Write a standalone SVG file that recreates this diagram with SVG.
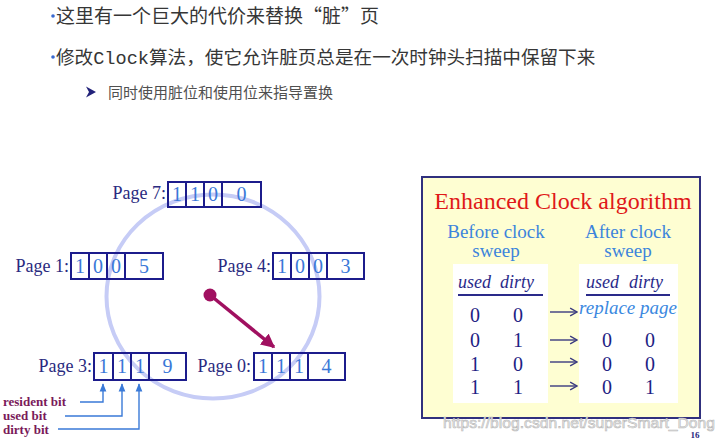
<svg xmlns="http://www.w3.org/2000/svg" width="725" height="439" viewBox="0 0 725 439">
<style>
.cn{font-family:"Noto Sans CJK SC","Noto Sans",sans-serif;fill:#363636}
.mono{font-family:"Liberation Mono",monospace}
.lbl{font-family:"Liberation Serif",serif;font-size:18px;fill:#2a2a80}
.dig{font-family:"Liberation Serif",serif;font-size:20px;fill:#3a78d8;text-anchor:middle}
.box{fill:none;stroke:#1c1c8c;stroke-width:2}
.ann{font-family:"Liberation Serif",serif;font-size:13px;font-weight:bold;fill:#7a1a5a}
.aline{fill:none;stroke:#3a7ad8;stroke-width:1.4}
.hd{font-family:"Liberation Serif",serif;font-size:19px;fill:#3c84dc;text-anchor:middle}
.th{font-family:"Liberation Serif",serif;font-size:18px;font-style:italic;fill:#2a2a8a}
.tv{font-family:"Liberation Serif",serif;font-size:20px;fill:#1e1e84;text-anchor:middle}
.arr{stroke:#3a3a80;stroke-width:1.4;fill:none}
</style>
<defs>
<marker id="mh" viewBox="0 0 10 10" refX="9" refY="5" markerWidth="4" markerHeight="4" orient="auto"><path d="M0,0 L10,5 L0,10 z" fill="#a01060"/></marker>
<marker id="ma" viewBox="0 0 10 10" refX="9" refY="5" markerWidth="6" markerHeight="6" orient="auto"><path d="M0,1 L10,5 L0,9 z" fill="#3a7ad8"/></marker>
<marker id="mt" viewBox="0 0 10 10" refX="9" refY="5" markerWidth="7" markerHeight="7" orient="auto"><path d="M2,1 L9,5 L2,9" fill="none" stroke="#3a3a80" stroke-width="1.4"/></marker>
</defs>
<rect width="725" height="439" fill="#ffffff"/>

<g id="bullets">
<circle cx="53" cy="16" r="1.8" fill="#3a6ad0"/>
<text class="cn" x="56" y="22.5" font-size="19">这里有一个巨大的代价来替换“脏”页</text>
<circle cx="53" cy="57" r="1.8" fill="#3a6ad0"/>
<text class="cn" x="56" y="64" font-size="18.6">修改<tspan class="mono">Clock</tspan>算法，使它允许脏页总是在一次时钟头扫描中保留下来</text>
<polygon points="86,86.5 96,92 86,97.5 89,92" fill="#22227a"/>
<text class="cn" x="108" y="97.5" font-size="15" style="fill:#505050">同时使用脏位和使用位来指导置换</text>
</g>

<g id="clock">
<ellipse cx="213" cy="296.5" rx="106.5" ry="102" fill="none" stroke="#c6ccf6" stroke-width="4"/>
</g>

<g id="connectors">
<line x1="210" y1="295" x2="274" y2="347" stroke="#a01060" stroke-width="3.5" marker-end="url(#mh)"/>
<polyline class="aline" points="80,402 103,402 103,384" marker-end="url(#ma)"/>
<polyline class="aline" points="65,416 122,416 122,384" marker-end="url(#ma)"/>
<polyline class="aline" points="58,429 139,429 139,384" marker-end="url(#ma)"/>
<circle cx="210" cy="295" r="6.5" fill="#a01060"/>
</g>

<g id="page7">
<text class="lbl" x="166" y="199" text-anchor="end">Page 7:</text>
<rect class="box" x="168" y="182" width="93" height="25"/>
<path class="box" d="M186,182V207M204,182V207M222,182V207"/>
<text class="dig" x="177" y="201">1</text><text class="dig" x="195" y="201">1</text><text class="dig" x="213" y="201">0</text><text class="dig" x="241.5" y="201">0</text>
</g>

<g id="page1">
<text class="lbl" x="69" y="272" text-anchor="end">Page 1:</text>
<rect class="box" x="71" y="253" width="92" height="26"/>
<path class="box" d="M89,253V279M107,253V279M125,253V279"/>
<text class="dig" x="80" y="273">1</text><text class="dig" x="98" y="273">0</text><text class="dig" x="116" y="273">0</text><text class="dig" x="144" y="273">5</text>
</g>

<g id="page4">
<text class="lbl" x="271" y="272" text-anchor="end">Page 4:</text>
<rect class="box" x="273" y="253" width="91" height="26"/>
<path class="box" d="M291,253V279M309,253V279M327,253V279"/>
<text class="dig" x="282" y="273">1</text><text class="dig" x="300" y="273">0</text><text class="dig" x="318" y="273">0</text><text class="dig" x="345.5" y="273">3</text>
</g>

<g id="page3">
<text class="lbl" x="92" y="372" text-anchor="end">Page 3:</text>
<rect class="box" x="94" y="353" width="92" height="27"/>
<path class="box" d="M113,353V380M131,353V380M149,353V380"/>
<text class="dig" x="103.5" y="373">1</text><text class="dig" x="122" y="373">1</text><text class="dig" x="140" y="373">1</text><text class="dig" x="167.5" y="373">9</text>
</g>

<g id="page0">
<text class="lbl" x="251" y="372" text-anchor="end">Page 0:</text>
<rect class="box" x="254" y="353" width="91" height="27"/>
<path class="box" d="M272,353V380M290,353V380M308,353V380"/>
<text class="dig" x="263" y="373">1</text><text class="dig" x="281" y="373">1</text><text class="dig" x="299" y="373">1</text><text class="dig" x="326.5" y="373">4</text>
</g>

<g id="bit-labels">
<text class="ann" x="3" y="406">resident bit</text>
<text class="ann" x="3" y="420">used bit</text>
<text class="ann" x="3" y="434">dirty bit</text>
</g>

<g id="panel">
<rect x="422" y="177" width="278" height="241" fill="#fefed2" stroke="#30307e" stroke-width="2"/>
<text x="563" y="209" text-anchor="middle" font-family="Liberation Serif, serif" font-size="24" fill="#e01818">Enhanced Clock algorithm</text>
<text class="hd" x="496" y="238">Before clock</text>
<text class="hd" x="496" y="257">sweep</text>
<text class="hd" x="628" y="238">After clock</text>
<text class="hd" x="628" y="257">sweep</text>
<rect x="453" y="264" width="95" height="139" fill="#ffffff"/>
<rect x="579" y="264" width="99" height="139" fill="#ffffff"/>
<text class="th" x="458" y="288">used</text><text class="th" x="500" y="288">dirty</text>
<line x1="458" y1="295" x2="543" y2="295" stroke="#2a2a8a" stroke-width="2"/>
<text class="th" x="586" y="288">used</text><text class="th" x="629" y="288">dirty</text>
<line x1="586" y1="295" x2="670" y2="295" stroke="#2a2a8a" stroke-width="2"/>
<text class="tv" x="475" y="322">0</text><text class="tv" x="518" y="322">0</text>
<text class="tv" x="475" y="347">0</text><text class="tv" x="518" y="347">1</text>
<text class="tv" x="475" y="371">1</text><text class="tv" x="518" y="371">0</text>
<text class="tv" x="475" y="394">1</text><text class="tv" x="518" y="394">1</text>
<text x="628" y="314" text-anchor="middle" font-family="Liberation Serif, serif" font-size="19" font-style="italic" fill="#3a88e0">replace page</text>
<text class="tv" x="607" y="347">0</text><text class="tv" x="650" y="347">0</text>
<text class="tv" x="607" y="371">0</text><text class="tv" x="650" y="371">0</text>
<text class="tv" x="607" y="394">0</text><text class="tv" x="650" y="394">1</text>
<line class="arr" x1="550" y1="312" x2="577" y2="312" marker-end="url(#mt)"/>
<line class="arr" x1="550" y1="340" x2="577" y2="340" marker-end="url(#mt)"/>
<line class="arr" x1="550" y1="362" x2="577" y2="362" marker-end="url(#mt)"/>
<line class="arr" x1="550" y1="386" x2="577" y2="386" marker-end="url(#mt)"/>
</g>

<g id="footer">
<text x="443" y="427.5" font-family="Liberation Sans, sans-serif" font-size="15.5" textLength="272" lengthAdjust="spacingAndGlyphs" fill="#ececec" stroke="#b8b8b8" stroke-width="0.6">https://blog.csdn.net/superSmart_Dong</text>
<text x="695" y="438" text-anchor="middle" font-family="Liberation Serif, serif" font-size="9" font-weight="bold" fill="#2a2a80">16</text>
</g>
</svg>
